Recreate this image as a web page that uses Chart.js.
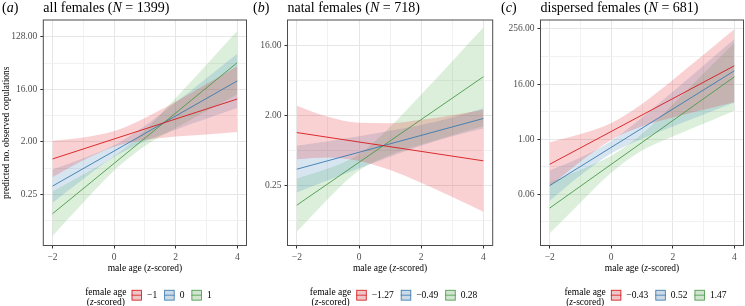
<!DOCTYPE html>
<html>
<head>
<meta charset="utf-8">
<script src="https://cdn.jsdelivr.net/npm/chart.js@4.4.1/dist/chart.umd.min.js"></script>
<style>
  html, body { margin: 0; padding: 0; background: #fff; }
  #fig { position: relative; width: 745px; height: 306px; overflow: hidden; }
  #fig canvas { position: absolute; top: 0; }
</style>
</head>
<body>
<div id="fig">
  <canvas id="panelA" width="250" height="306" style="left:0px;width:250px;height:306px"></canvas>
  <canvas id="panelB" width="245" height="306" style="left:250px;width:245px;height:306px"></canvas>
  <canvas id="panelC" width="250" height="306" style="left:495px;width:250px;height:306px"></canvas>
</div>
<script>
// male age (z-scored) grid used for the confidence bands, and ends of the fitted lines
const xGrid = [-2, -1, 0, 1, 2, 3, 4];
const xEnds = [-2, 4];
const xTickValues = [-2, 0, 2, 4];
const xTickLabels = ['−2', '0', '2', '4'];

// (a) all females
const allLevels = ['−1', '0', '1'];
const allFit = [[1.02, 10.9], [0.349, 22.3], [0.117, 45.9]];
const allLo = [
  [0.497, 0.966, 1.65, 2.16, 2.48, 2.69, 2.95],
  [0.180, 0.463, 1.11, 2.06, 3.25, 4.99, 7.62],
  [0.0487, 0.182, 0.646, 1.71, 3.48, 6.80, 13.2]
];
const allHi = [
  [2.10, 2.38, 3.07, 5.17, 9.78, 19.8, 40.0],
  [0.673, 1.05, 1.75, 3.78, 9.58, 24.9, 65.4],
  [0.283, 0.553, 1.14, 3.15, 11.3, 42.4, 160]
];
const allTicks = [0.25, 2, 16, 128];
const allTickLabels = ['0.25', '2.00', '16.00', '128.00'];

// (b) natal females
const natalLevels = ['−1.27', '−0.49', '0.28'];
const natalFit = [[1.20, 0.52], [0.406, 1.82], [0.140, 6.26]];
const natalLo = [
  [0.546, 0.573, 0.519, 0.396, 0.271, 0.178, 0.115],
  [0.203, 0.292, 0.417, 0.586, 0.811, 1.075, 1.353],
  [0.0635, 0.168, 0.389, 0.617, 0.840, 1.111, 1.461]
];
const natalHi = [
  [2.66, 1.91, 1.60, 1.58, 1.75, 2.01, 2.36],
  [0.812, 0.931, 1.077, 1.262, 1.506, 1.873, 2.456],
  [0.308, 0.413, 0.632, 1.417, 3.70, 9.93, 26.9]
];
const natalTicks = [0.25, 2, 16];
const natalTickLabels = ['0.25', '2.00', '16.00'];

// (c) dispersed females
const dispLevels = ['−0.43', '0.52', '1.47'];
const dispFit = [[0.281, 40.0], [0.096, 31.1], [0.031, 22.9]];
const dispLo = [
  [0.0928, 0.322, 0.959, 1.912, 2.975, 4.39, 6.36],
  [0.0448, 0.161, 0.481, 1.011, 1.888, 3.446, 6.32],
  [0.00867, 0.0412, 0.183, 0.559, 1.139, 2.163, 4.17]
];
const dispHi = [
  [0.853, 1.283, 2.245, 5.88, 19.7, 69.6, 251],
  [0.206, 0.394, 0.905, 2.957, 10.88, 40.9, 153],
  [0.113, 0.214, 0.433, 1.283, 5.68, 27.0, 126]
];
const dispTicks = [0.0625, 1, 16, 256];
const dispTickLabels = ['0.06', '1.00', '16.00', '256.00'];

const lineCols = ['#D7191C', '#3A7AB0', '#4A9A47'];
const ribbonCols = ['rgba(228,26,28,0.2)', 'rgba(55,126,184,0.2)', 'rgba(77,175,74,0.2)'];
const serif = '"Liberation Serif", "DejaVu Serif", serif';
const gridMajor = '#e6e6e6';
const gridMinor = '#f1f1f1';

function drawRuns(ctx, runs, x, y, size, align) {
  const fontFor = it => (it ? 'italic ' : '') + size + 'px ' + serif;
  let total = 0;
  runs.forEach(([t, it]) => { ctx.font = fontFor(it); total += ctx.measureText(t).width; });
  let cx = align === 'center' ? x - total / 2 : x;
  ctx.textAlign = 'left';
  runs.forEach(([t, it]) => {
    ctx.font = fontFor(it);
    ctx.fillText(t, cx, y);
    cx += ctx.measureText(t).width;
  });
  return total;
}

function runsWidth(ctx, runs, size) {
  let w = 0;
  runs.forEach(([t, it]) => {
    ctx.font = (it ? 'italic ' : '') + size + 'px ' + serif;
    w += ctx.measureText(t).width;
  });
  return w;
}

function minorTicks(ticks, min, max) {
  const step = ticks[1] / ticks[0];
  const out = [];
  const ext = [ticks[0] / step, ...ticks, ticks[ticks.length - 1] * step];
  for (let i = 0; i < ext.length - 1; i++) {
    const m = Math.sqrt(ext[i] * ext[i + 1]);
    if (m > min && m < max) out.push(m);
  }
  return out;
}

function decor(p) {
  return {
    id: 'decor',
    afterDraw(chart) {
      const ctx = chart.ctx;
      const a = chart.chartArea;
      ctx.save();
      // panel border
      ctx.strokeStyle = '#4d4d4d';
      ctx.lineWidth = 1;
      ctx.strokeRect(a.left, a.top, a.right - a.left, a.bottom - a.top);

      ctx.fillStyle = '#000';
      ctx.textBaseline = 'middle';
      drawRuns(ctx, [['(', false], [p.tag, true], [')', false]], p.tagX, 8, 14, 'left');
      drawRuns(ctx, p.title, a.left, 8, 14, 'left');

      const cx = (a.left + a.right) / 2;
      drawRuns(ctx, [['male age (', false], ['z', true], ['-scored)', false]], cx, 268, 9.5, 'center');

      if (p.yTitle) {
        ctx.save();
        ctx.translate(6, (a.top + a.bottom) / 2);
        ctx.rotate(-Math.PI / 2);
        drawRuns(ctx, [[p.yTitle, false]], 0, 0, 9.5, 'center');
        ctx.restore();
      }

      // legend
      const size = 9.5;
      const zRuns = [['(', false], ['z', true], ['-scored)', false]];
      const titleW = Math.max(runsWidth(ctx, [['female age', false]], size), runsWidth(ctx, zRuns, size));
      ctx.font = size + 'px ' + serif;
      const labW = p.levels.map(l => ctx.measureText(l).width);
      const box = 10.5, gapTitle = 5, gapBox = 5, gapItem = 7;
      let total = titleW;
      labW.forEach((w, i) => { total += (i === 0 ? gapTitle : gapItem) + box + gapBox + w; });
      let x = cx + 3.5 - total / 2;
      drawRuns(ctx, [['female age', false]], x + titleW / 2, 292.5, size, 'center');
      drawRuns(ctx, zRuns, x + titleW / 2, 302.5, size, 'center');
      x += titleW;
      p.levels.forEach((l, i) => {
        x += i === 0 ? gapTitle : gapItem;
        ctx.fillStyle = '#f2f2f2';
        ctx.fillRect(x, 289.8, box, 10.8);
        ctx.fillStyle = ribbonCols[i];
        ctx.fillRect(x, 289.8, box, 10.8);
        ctx.strokeStyle = lineCols[i];
        ctx.lineWidth = 0.8;
        ctx.strokeRect(x + 0.5, 290.3, box - 1, 9.8);
        ctx.beginPath();
        ctx.moveTo(x, 295.2);
        ctx.lineTo(x + box, 295.2);
        ctx.stroke();
        x += box + gapBox;
        ctx.fillStyle = '#000';
        ctx.font = size + 'px ' + serif;
        ctx.textAlign = 'left';
        ctx.fillText(l, x, 295.5);
        x += labW[i];
      });
      ctx.restore();
    }
  };
}

function buildPanel(id, p) {
  const datasets = [];
  p.lo.forEach((lo, i) => {
    datasets.push({
      data: xGrid.map((x, j) => ({ x, y: lo[j] })),
      borderColor: 'rgba(0,0,0,0)', borderWidth: 0, pointRadius: 0,
      fill: false, order: 2, cubicInterpolationMode: 'monotone'
    });
    datasets.push({
      data: xGrid.map((x, j) => ({ x, y: p.hi[i][j] })),
      borderColor: 'rgba(0,0,0,0)', borderWidth: 0, pointRadius: 0,
      fill: datasets.length - 1, backgroundColor: ribbonCols[i],
      order: 2, cubicInterpolationMode: 'monotone'
    });
  });
  p.fit.forEach((f, i) => {
    datasets.push({
      data: xEnds.map((x, j) => ({ x, y: f[j] })),
      borderColor: lineCols[i], borderWidth: 0.9, pointRadius: 0, fill: false, order: 0
    });
  });

  const minors = minorTicks(p.ticks, p.yMin, p.yMax);
  const isMajorY = v => p.ticks.some(t => Math.abs(t - v) / t < 1e-6);

  new Chart(document.getElementById(id).getContext('2d'), {
    type: 'line',
    data: { datasets },
    options: {
      responsive: false,
      animation: false,
      events: [],
      layout: { padding: { left: 0, right: p.padRight, top: 20, bottom: 38.5 } },
      plugins: { legend: { display: false }, tooltip: { enabled: false } },
      scales: {
        x: {
          type: 'linear', min: -2.3, max: 4.3,
          afterBuildTicks: s => { s.ticks = xGrid.map(v => ({ value: v })); },
          afterFit: s => { s.height = 22; },
          border: { display: false },
          grid: {
            color: c => (c.tick && c.tick.value % 2 === 0) ? gridMajor : gridMinor,
            lineWidth: 1, drawTicks: true, tickLength: 3, tickWidth: 1,
            tickColor: c => (c.tick && c.tick.value % 2 === 0) ? '#333' : 'rgba(0,0,0,0)'
          },
          ticks: {
            autoSkip: false, maxRotation: 0, padding: 3,
            color: '#4d4d4d', font: { family: serif, size: 9.5 },
            callback: v => { const k = xTickValues.indexOf(v); return k < 0 ? '' : xTickLabels[k]; }
          }
        },
        y: {
          type: 'logarithmic', min: p.yMin, max: p.yMax,
          afterBuildTicks: s => { s.ticks = [...p.ticks, ...minors].sort((a, b) => a - b).map(v => ({ value: v })); },
          afterFit: s => { s.width = p.left; },
          border: { display: false },
          grid: {
            color: c => (c.tick && isMajorY(c.tick.value)) ? gridMajor : gridMinor,
            lineWidth: 1, drawTicks: true, tickLength: 3, tickWidth: 1,
            tickColor: c => (c.tick && isMajorY(c.tick.value)) ? '#333' : 'rgba(0,0,0,0)'
          },
          ticks: {
            autoSkip: false, padding: 3,
            color: '#4d4d4d', font: { family: serif, size: 9.5 },
            callback: v => {
              const k = p.ticks.findIndex(t => Math.abs(t - v) / t < 1e-6);
              return k < 0 ? '' : p.tickLabels[k];
            }
          }
        }
      }
    },
    plugins: [decor(p)]
  });
}

buildPanel('panelA', {
  tag: 'a', tagX: 2,
  title: [['all females (', false], ['N', true], [' = 1399)', false]],
  yTitle: 'predicted no. observed copulations',
  levels: allLevels, fit: allFit, lo: allLo, hi: allHi,
  ticks: allTicks, tickLabels: allTickLabels,
  yMin: 0.0333, yMax: 248, left: 43.3, padRight: 3.5
});

buildPanel('panelB', {
  tag: 'b', tagX: 3,
  title: [['natal females (', false], ['N', true], [' = 718)', false]],
  levels: natalLevels, fit: natalFit, lo: natalLo, hi: natalHi,
  ticks: natalTicks, tickLabels: natalTickLabels,
  yMin: 0.0424, yMax: 33.6, left: 37.5, padRight: 2.3
});

buildPanel('panelC', {
  tag: 'c', tagX: 6,
  title: [['dispersed females (', false], ['N', true], [' = 681)', false]],
  levels: dispLevels, fit: dispFit, lo: dispLo, hi: dispHi,
  ticks: dispTicks, tickLabels: dispTickLabels,
  yMin: 0.0047, yMax: 402, left: 45.5, padRight: 1.5
});
</script>
</body>
</html>
